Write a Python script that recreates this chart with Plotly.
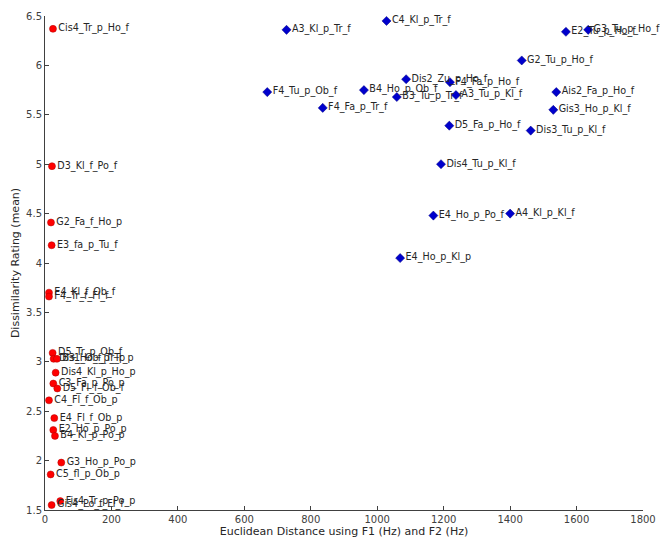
import plotly.graph_objects as go

# Red group: pairs with small Euclidean distance
red_labels = [
    "Cis4_Tr_p_Ho_f", "D3_Kl_f_Po_f", "G2_Fa_f_Ho_p", "E3_fa_p_Tu_f",
    "E4_Kl_f_Ob_f", "F4_Tr_f_Fl_f", "D5_Tr_p_Ob_f", "Dis1_Ob_p_Tr_p",
    "B3_Ho_f_Tr_p", "Dis4_Kl_p_Ho_p", "C3_Fa_p_Po_p", "D5_Fl_f_Ob_f",
    "C4_Fl_f_Ob_p", "E4_Fl_f_Ob_p", "E2_Ho_p_Po_p", "B4_Kl_p_Po_p",
    "G3_Ho_p_Po_p", "C5_fl_p_Ob_p", "Fis4_Tr_p_Po_p", "Gis4_Po_f_Fl_f",
]
red_x = [24, 21, 18, 20, 12, 12, 23, 26, 36, 32, 25, 37, 12, 28, 25, 30, 49, 17, 46, 20]
red_y = [6.37, 4.98, 4.41, 4.18, 3.70, 3.66, 3.09, 3.03, 3.03, 2.89, 2.78, 2.73,
         2.61, 2.43, 2.31, 2.25, 1.98, 1.86, 1.59, 1.55]

# Blue group: pairs with large Euclidean distance
blue_labels = [
    "A3_Kl_p_Tr_f", "C4_Kl_p_Tr_f", "F4_Tu_p_Ob_f", "B4_Ho_p_Ob_f",
    "F4_Fa_p_Tr_f", "Dis2_Zu_p_Ho_f", "B3_Tu_p_Tr_f", "F4_Fa_p_Ho_f",
    "A3_Tu_p_Kl_f", "D5_Fa_p_Ho_f", "G2_Tu_p_Ho_f", "E2_Tu_p_Ho_f",
    "G3_Tu_p_Ho_f", "Ais2_Fa_p_Ho_f", "Gis3_Ho_p_Kl_f", "Dis3_Tu_p_Kl_f",
    "Dis4_Tu_p_Kl_f", "E4_Ho_p_Po_f", "A4_Kl_p_Kl_f", "E4_Ho_p_Kl_p",
]
blue_x = [727, 1028, 669, 960, 836, 1087, 1059, 1219, 1237, 1217, 1435, 1568,
          1635, 1539, 1530, 1462, 1192, 1169, 1400, 1069]
blue_y = [6.36, 6.45, 5.73, 5.75, 5.57, 5.86, 5.68, 5.83, 5.70, 5.39, 6.05, 6.34,
          6.36, 5.73, 5.55, 5.34, 5.00, 4.48, 4.50, 4.05]

x_ticks = [0, 200, 400, 600, 800, 1000, 1200, 1400, 1600, 1800]
y_ticks = [1.5, 2, 2.5, 3, 3.5, 4, 4.5, 5, 5.5, 6, 6.5]

FONT = "DejaVu Sans"
TEXT_COLOR = "#262626"
AXIS_COLOR = "#404040"

fig = go.Figure()
fig.add_trace(go.Scatter(
    x=red_x, y=red_y, text=red_labels, mode="markers+text",
    textposition="middle right",
    textfont=dict(family=FONT, size=9.6, color=TEXT_COLOR),
    marker=dict(symbol="circle", size=7, color="#ff0000",
                line=dict(color="#b00000", width=0.5)),
    showlegend=False, cliponaxis=False,
))
fig.add_trace(go.Scatter(
    x=blue_x, y=blue_y, text=blue_labels, mode="markers+text",
    textposition="middle right",
    textfont=dict(family=FONT, size=9.6, color=TEXT_COLOR),
    marker=dict(symbol="diamond", size=7, color="#0000cc",
                line=dict(color="#000080", width=0.5)),
    showlegend=False, cliponaxis=False,
))

axis_common = dict(
    showgrid=False, zeroline=False, showline=True, linecolor=AXIS_COLOR,
    linewidth=1, ticks="inside", ticklen=4, tickcolor=AXIS_COLOR,
    tickfont=dict(family=FONT, size=10, color=AXIS_COLOR),
    mirror=False,
)

fig.update_layout(
    width=660, height=538,
    margin=dict(l=45, r=17, t=16, b=28),
    paper_bgcolor="white", plot_bgcolor="white",
    font=dict(family=FONT, color=TEXT_COLOR),
    xaxis=dict(range=[0, 1800], tickvals=x_ticks, automargin=False,
               title=dict(text="Euclidean Distance using F1 (Hz) and F2 (Hz)",
                          font=dict(family=FONT, size=11, color=TEXT_COLOR),
                          standoff=2),
               **axis_common),
    yaxis=dict(range=[1.5, 6.5], tickvals=y_ticks,
               ticktext=[str(v) for v in y_ticks], automargin=False,
               title=dict(text="Dissimilarity Rating (mean)",
                          font=dict(family=FONT, size=11, color=TEXT_COLOR),
                          standoff=4),
               **axis_common),
)

fig.write_html("out.html")
